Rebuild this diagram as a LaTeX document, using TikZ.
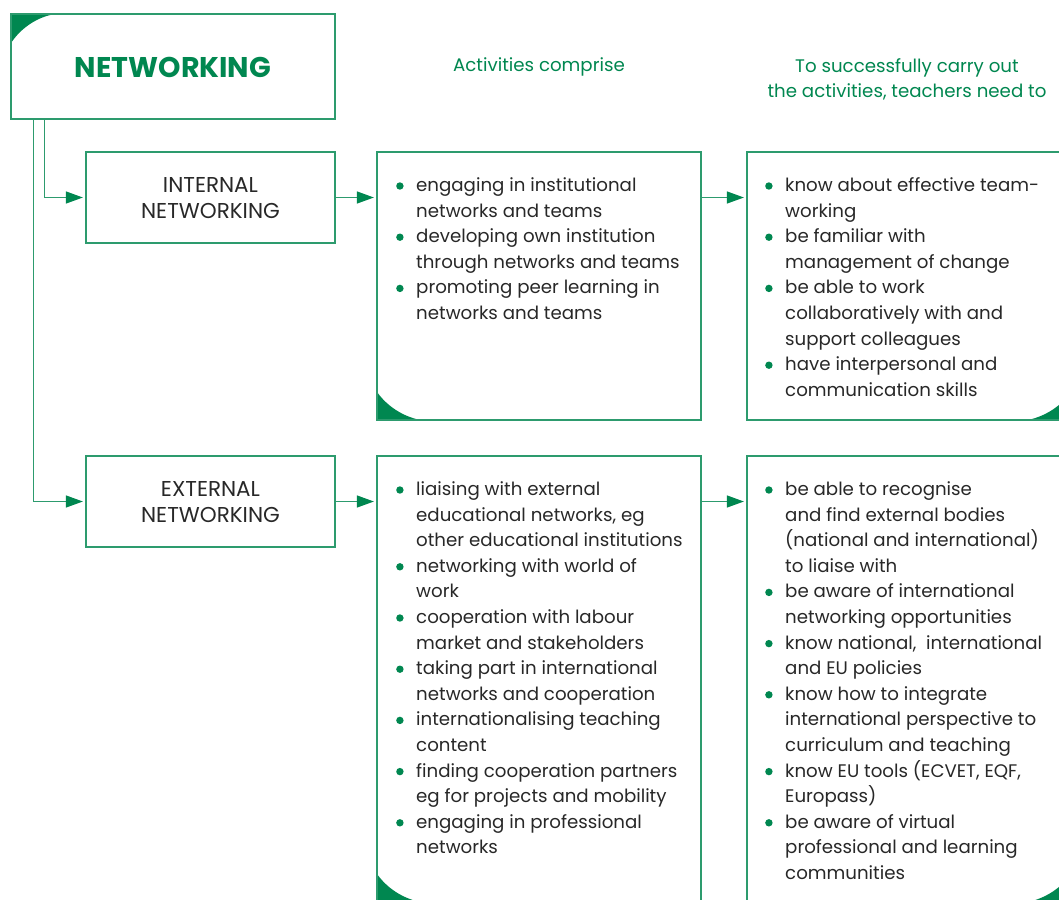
\documentclass[tikz,border=0pt]{standalone}
\usepackage{fontspec}
\setmainfont{Poppins}
\usetikzlibrary{arrows.meta}
\definecolor{ngreen}{RGB}{0,135,80}
\definecolor{nline}{RGB}{45,155,110}
\definecolor{ntext}{RGB}{40,40,40}
\newcommand\bl{\makebox[20pt][l]{\tikz[baseline=-5.5pt]\fill[ngreen] (0,0) circle[radius=3.7pt];}}
\begin{document}
\begin{tikzpicture}[x=1pt,y=-1pt,
  box/.style={draw=nline,line width=1.3pt,rectangle,inner sep=0pt},
  conn/.style={draw=nline,line width=1.3pt,-{Triangle[length=17pt,width=12pt,color=ngreen]},shorten >=2.5pt},
  label/.style={text=ntext,font=\fontsize{21.5}{25.6}\selectfont,align=center,inner sep=0pt},
  head/.style={text=ngreen,font=\fontsize{18.2}{24.5}\selectfont,align=center,inner sep=0pt},
  list/.style={text=ntext,font=\fontsize{18.2}{25.6}\selectfont,inner sep=0pt,anchor=base west}]
\clip (0,0) rectangle (1059,899);
\fill[white] (0,0) rectangle (1059,899);
% corner decorations
\fill[ngreen] (11,14) -- (55,14) .. controls (37,17) and (21,28) .. (11,43) -- cycle;
\fill[ngreen] (377,420) -- (420,420) .. controls (402,416) and (387,406) .. (377,392) -- cycle;
\fill[ngreen] (1071,420) -- (1028,420) .. controls (1046,416) and (1061,406) .. (1071,392) -- cycle;
\fill[ngreen] (377,902) -- (420,902) .. controls (402,898) and (387,888) .. (377,874) -- cycle;
\fill[ngreen] (1071,902) -- (1028,902) .. controls (1046,898) and (1061,888) .. (1071,874) -- cycle;
% boxes
\node[box,minimum width=324pt,minimum height=105pt] (net) at (173,66.5) {};
\node[text=ngreen,font=\fontsize{28.5}{32}\selectfont\bfseries,inner sep=0pt] (nettitle) at (173,67) {NETWORKING};
\node[box,minimum width=249pt,minimum height=91pt] (int) at (210.5,197.5) {};
\node[box,minimum width=249pt,minimum height=91pt] (ext) at (210.5,501.5) {};
\node[label] (intl) at (210.5,198) {INTERNAL\\NETWORKING};
\node[label] (extl) at (210.5,502) {EXTERNAL\\NETWORKING};
\node[box,minimum width=324pt,minimum height=268pt] (act1) at (539,286) {};
\node[box,minimum width=324pt,minimum height=446pt] (act2) at (539,679) {};
\node[box,minimum width=324pt,minimum height=268pt] (need1) at (909,286) {};
\node[box,minimum width=324pt,minimum height=446pt] (need2) at (909,679) {};
% headers
\node[head] (h1) at (539,67) {Activities comprise};
\node[head] (h2) at (907,79.5) {To successfully carry out\\the activities, teachers need to};
% lists
\node[list] (a1) at (396,191.5) {\begin{tabular}[t]{@{}l@{}l@{}}
\bl & engaging in institutional\\
 & networks and teams\\
\bl & developing own institution\\
 & through networks and teams\\
\bl & promoting peer learning in\\
 & networks and teams
\end{tabular}};
\node[list] (n1) at (765,191.5) {\begin{tabular}[t]{@{}l@{}l@{}}
\bl & know about effective team-\\
 & working\\
\bl & be familiar with\\
 & management of change\\
\bl & be able to work\\
 & collaboratively with and\\
 & support colleagues\\
\bl & have interpersonal and\\
 & communication skills
\end{tabular}};
\node[list] (a2) at (396,495.5) {\begin{tabular}[t]{@{}l@{}l@{}}
\bl & liaising with external\\
 & educational networks, eg\\
 & other educational institutions\\
\bl & networking with world of\\
 & work\\
\bl & cooperation with labour\\
 & market and stakeholders\\
\bl & taking part in international\\
 & networks and cooperation\\
\bl & internationalising teaching\\
 & content\\
\bl & finding cooperation partners\\
 & eg for projects and mobility\\
\bl & engaging in professional\\
 & networks
\end{tabular}};
\node[list] (n2) at (765,495.5) {\begin{tabular}[t]{@{}l@{}l@{}}
\bl & be able to recognise\\
 & and find external bodies\\
 & (national and international)\\
 & to liaise with\\
\bl & be aware of international\\
 & networking opportunities\\
\bl & know national,~ international\\
 & and EU policies\\
\bl & know how to integrate\\
 & international perspective to\\
 & curriculum and teaching\\
\bl & know EU tools (ECVET, EQF,\\
 & Europass)\\
\bl & be aware of virtual\\
 & professional and learning\\
 & communities
\end{tabular}};
% connectors
\coordinate (s1) at ([xshift=34pt]net.south west);
\coordinate (s2) at ([xshift=23pt]net.south west);
\draw[conn] (s1) |- (int.west);
\draw[conn] (s2) |- (ext.west);
\draw[conn] (int.east) -- (int.east -| act1.west);
\draw[conn] (ext.east) -- (ext.east -| act2.west);
\draw[conn] (int.east -| act1.east) -- (int.east -| need1.west);
\draw[conn] (ext.east -| act2.east) -- (ext.east -| need2.west);
\end{tikzpicture}
\end{document}
